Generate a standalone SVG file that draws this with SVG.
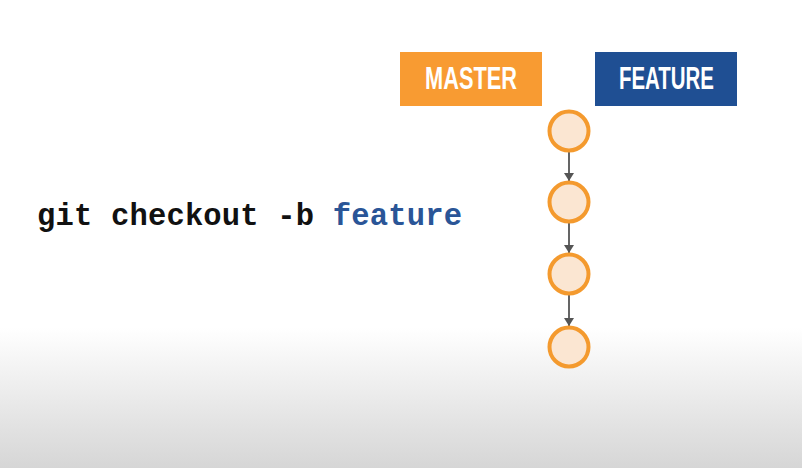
<svg xmlns="http://www.w3.org/2000/svg" width="802" height="468" viewBox="0 0 802 468">
  <defs>
    <linearGradient id="bg" x1="0" y1="0" x2="0" y2="1">
      <stop offset="0" stop-color="#ffffff"/>
      <stop offset="0.7" stop-color="#ffffff"/>
      <stop offset="1" stop-color="#d6d6d6"/>
    </linearGradient>
    <marker id="arrow" viewBox="0 0 8 10" refX="8" refY="5" markerWidth="8" markerHeight="10" orient="auto" markerUnits="userSpaceOnUse">
      <path d="M0,0 L8,5 L0,10 z" fill="#555555"/>
    </marker>
    <style>
      .commit { fill: #fbe6d2; stroke: #f49a2e; stroke-width: 4; }
      .label { font-family: "Liberation Sans", Arial, sans-serif; font-weight: bold; font-size: 32px; fill: #ffffff; text-anchor: middle; }
      .edge { stroke: #555555; stroke-width: 1.8; fill: none; marker-end: url(#arrow); }
      .cmd { font-family: "Liberation Mono", "Courier New", monospace; font-weight: bold; font-size: 30.5px; fill: #111111; }
    </style>
  </defs>
  <rect x="0" y="0" width="802" height="468" fill="url(#bg)"/>

  <g id="master">
    <rect x="400" y="52" width="142" height="54" fill="#f89b32"/>
    <text class="label" x="471" y="89" textLength="92" lengthAdjust="spacingAndGlyphs">MASTER</text>
  </g>
  <g id="feature">
    <rect x="595" y="52" width="142" height="54" fill="#1f4f93"/>
    <text class="label" x="666.5" y="89" textLength="95" lengthAdjust="spacingAndGlyphs">FEATURE</text>
  </g>

  <g id="command">
    <text class="cmd" x="37" y="225" textLength="425" lengthAdjust="spacing">git checkout -b <tspan fill="#2a5597">feature</tspan></text>
  </g>

  <g id="connectors">
    <line class="edge" x1="569" y1="152" x2="569" y2="181"/>
    <line class="edge" x1="569" y1="223" x2="569" y2="253"/>
    <line class="edge" x1="569" y1="295" x2="569" y2="326"/>
  </g>

  <g id="commit1"><circle class="commit" cx="569" cy="131" r="19.5"/></g>
  <g id="commit2"><circle class="commit" cx="569" cy="202" r="19.5"/></g>
  <g id="commit3"><circle class="commit" cx="569" cy="274" r="19.5"/></g>
  <g id="commit4"><circle class="commit" cx="569" cy="347" r="19.5"/></g>
</svg>
